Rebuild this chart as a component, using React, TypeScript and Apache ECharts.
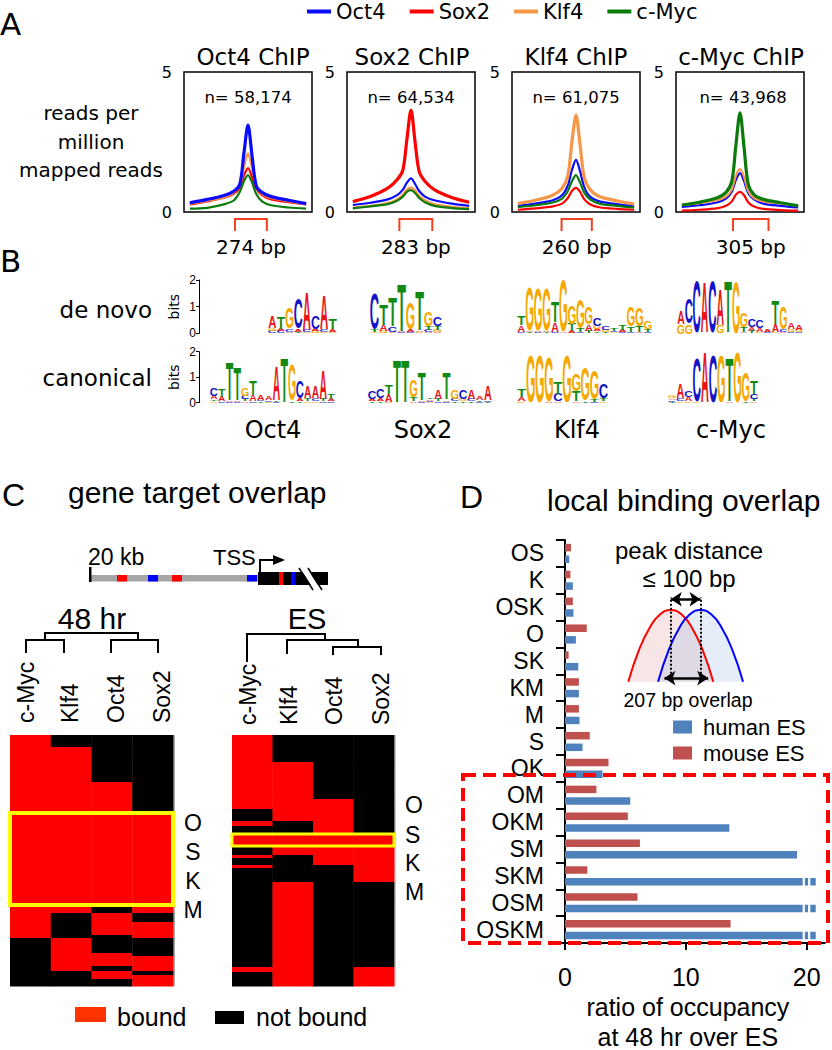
import React, { useEffect, useRef } from "react";
import * as echarts from "echarts";

// ---------------- Panel A data ----------------
const factorNames = ["Oct4", "Sox2", "Klf4", "c-Myc"];
const factorColors = ["#0a0aff", "#ff0000", "#f79646", "#0a7a0a"];
const chipTitles = ["Oct4 ChIP", "Sox2 ChIP", "Klf4 ChIP", "c-Myc ChIP"];
const peakCounts = ["58,174", "64,534", "61,075", "43,968"];
const profileX = [-500, -350, -200, -120, -70, -35, 0, 35, 70, 120, 200, 350, 500];

const oct4ChipOct4 = [0.33, 0.45, 0.6, 0.75, 1.0, 2.1, 3.1, 2.0, 0.95, 0.7, 0.55, 0.42, 0.3];
const oct4ChipSox2 = [0.27, 0.38, 0.52, 0.66, 0.88, 1.3, 1.57, 1.25, 0.85, 0.6, 0.45, 0.35, 0.27];
const oct4ChipKlf4 = [0.3, 0.4, 0.53, 0.7, 0.98, 1.6, 2.1, 1.55, 0.95, 0.65, 0.5, 0.38, 0.28];
const oct4ChipMyc = [0.12, 0.15, 0.28, 0.42, 0.72, 1.1, 1.32, 1.05, 0.65, 0.38, 0.24, 0.16, 0.12];
const sox2ChipOct4 = [0.25, 0.33, 0.45, 0.6, 0.8, 1.05, 1.2, 1.0, 0.75, 0.55, 0.42, 0.3, 0.22];
const sox2ChipSox2 = [0.37, 0.55, 0.85, 1.15, 1.5, 2.6, 3.64, 2.5, 1.45, 1.1, 0.8, 0.52, 0.35];
const sox2ChipKlf4 = [0.15, 0.22, 0.32, 0.45, 0.62, 0.8, 0.87, 0.78, 0.58, 0.42, 0.28, 0.18, 0.13];
const sox2ChipMyc = [0.13, 0.2, 0.28, 0.4, 0.55, 0.72, 0.78, 0.68, 0.5, 0.35, 0.22, 0.14, 0.1];
const klf4ChipOct4 = [0.22, 0.3, 0.42, 0.6, 0.95, 1.5, 1.86, 1.45, 0.9, 0.55, 0.38, 0.28, 0.2];
const klf4ChipSox2 = [0.08, 0.13, 0.2, 0.3, 0.5, 0.75, 0.86, 0.72, 0.46, 0.28, 0.17, 0.11, 0.08];
const klf4ChipKlf4 = [0.3, 0.42, 0.6, 0.85, 1.3, 2.5, 3.46, 2.4, 1.25, 0.8, 0.55, 0.4, 0.28];
const klf4ChipMyc = [0.17, 0.24, 0.34, 0.48, 0.75, 1.1, 1.32, 1.05, 0.7, 0.45, 0.3, 0.22, 0.16];
const mycChipOct4 = [0.18, 0.24, 0.34, 0.48, 0.72, 1.15, 1.39, 1.1, 0.68, 0.45, 0.3, 0.22, 0.16];
const mycChipSox2 = [0.05, 0.08, 0.13, 0.22, 0.38, 0.62, 0.72, 0.6, 0.35, 0.2, 0.11, 0.07, 0.05];
const mycChipKlf4 = [0.25, 0.32, 0.42, 0.55, 0.8, 1.3, 1.53, 1.25, 0.75, 0.5, 0.38, 0.3, 0.22];
const mycChipMyc = [0.25, 0.35, 0.5, 0.7, 1.1, 2.4, 3.54, 2.3, 1.0, 0.62, 0.45, 0.33, 0.22];

const bracketStart = [-112, -100, -124, -60];
const bracketWidth = [274, 283, 260, 305];

// ---------------- Panel B data (sequence logos: letters bottom->top, heights in bits) ----------------
const motifNames = ["Oct4", "Sox2", "Klf4", "c-Myc"];
const oct4DeNovo = [
  ["CGA", [0.08, 0.1, 0.45]], ["CAT", [0.07, 0.1, 0.46]], ["ACG", [0.06, 0.1, 0.78]], ["TAC", [0.06, 0.1, 1.15]],
  ["GCA", [0.05, 0.07, 1.44]], ["GAC", [0.07, 0.1, 0.52]], ["GCA", [0.05, 0.07, 1.32]], ["GAT", [0.06, 0.08, 0.42]],
];
const sox2DeNovo = [
  ["GTC", [0.05, 0.08, 1.37]], ["GAT", [0.08, 0.22, 0.8]], ["ACT", [0.06, 0.2, 1.09]], ["CAT", [0.03, 0.04, 1.78]],
  ["CAG", [0.06, 0.09, 1.0]], ["GAT", [0.04, 0.06, 1.5]], ["ACTG", [0.06, 0.08, 0.12, 0.54]], ["AGTC", [0.06, 0.08, 0.12, 0.34]],
];
const klf4DeNovo = [
  ["CAT", [0.05, 0.25, 0.35]], ["TAG", [0.03, 0.05, 1.67]], ["CAG", [0.03, 0.05, 1.62]], ["TAG", [0.03, 0.05, 1.62]],
  ["CAT", [0.05, 0.35, 0.8]], ["AG", [0.03, 1.97]], ["ATG", [0.08, 0.27, 0.7]], ["CTG", [0.06, 0.12, 1.12]],
  ["TAG", [0.08, 0.25, 0.67]], ["TAGC", [0.06, 0.1, 0.12, 0.27]], ["TGC", [0.06, 0.08, 0.16]], ["GCT", [0.04, 0.06, 0.1]],
  ["CAT", [0.05, 0.08, 0.17]], ["CTG", [0.06, 0.2, 0.74]], ["ATG", [0.06, 0.22, 0.72]], ["CTG", [0.06, 0.1, 0.29]],
];
const mycDeNovo = [
  ["GA", [0.35, 0.5]], ["GC", [0.35, 0.95]], ["C", [1.95]], ["A", [1.9]], ["C", [1.95]], ["GA", [0.3, 1.35]],
  ["T", [1.95]], ["G", [1.95]], ["ATG", [0.06, 0.2, 0.55]], ["TAC", [0.08, 0.15, 0.32]], ["GAC", [0.06, 0.16, 0.28]],
  ["CA", [0.05, 0.1]], ["GAT", [0.06, 0.3, 0.9]], ["ACG", [0.06, 0.1, 0.84]], ["CGA", [0.06, 0.1, 0.24]], ["CGA", [0.05, 0.08, 0.17]],
];
const oct4Canonical = [
  ["GTAC", [0.05, 0.07, 0.14, 0.3]], ["CAT", [0.05, 0.2, 0.31]], ["CAT", [0.03, 0.05, 1.52]], ["CAT", [0.04, 0.06, 1.3]],
  ["ATCG", [0.06, 0.08, 0.14, 0.32]], ["CAT", [0.05, 0.25, 0.55]], ["TCA", [0.05, 0.07, 0.18]], ["GCA", [0.04, 0.06, 0.15]],
  ["CTA", [0.03, 0.05, 1.37]], ["T", [1.8]], ["TG", [0.06, 1.39]], ["TAC", [0.06, 0.1, 0.69]],
  ["GTA", [0.06, 0.1, 0.44]], ["GCA", [0.06, 0.1, 0.44]], ["CTA", [0.05, 0.08, 1.17]], ["CAT", [0.05, 0.08, 0.22]],
];
const sox2Canonical = [
  ["TAC", [0.05, 0.1, 0.3]], ["TAC", [0.05, 0.12, 0.38]], ["GAT", [0.04, 0.3, 0.36]], ["T", [1.65]], ["T", [1.65]],
  ["ATG", [0.06, 0.14, 0.7]], ["CAT", [0.04, 0.06, 1.1]], ["GCAT", [0.04, 0.04, 0.05, 0.07]], ["CTA", [0.05, 0.1, 0.35]],
  ["CAT", [0.04, 0.06, 1.05]], ["TCG", [0.05, 0.08, 0.37]], ["TGC", [0.05, 0.08, 0.37]], ["TCA", [0.05, 0.08, 0.37]],
  ["CTA", [0.04, 0.06, 0.15]], ["TCA", [0.04, 0.06, 0.55]],
];
const klf4Canonical = [
  ["GAT", [0.05, 0.15, 0.3]], ["G", [1.87]], ["G", [1.87]], ["AG", [0.04, 1.76]], ["ACT", [0.04, 0.3, 0.46]],
  ["G", [1.87]], ["ATG", [0.05, 0.4, 0.7]], ["TG", [0.06, 1.29]], ["CTG", [0.04, 0.1, 1.14]], ["GTC", [0.05, 0.1, 0.55]],
];
const mycCanonical = [
  ["TCAG", [0.04, 0.06, 0.07, 0.1]], ["GCA", [0.06, 0.12, 0.57]], ["GAC", [0.05, 0.15, 0.25]], ["GC", [0.05, 1.75]],
  ["A", [2.0]], ["C", [1.87]], ["G", [1.87]], ["AT", [0.04, 1.71]], ["G", [2.0]], ["TG", [0.06, 1.14]], ["ATCT", [0.06, 0.1, 0.2, 0.54]],
];

// ---------------- Panel C data (bound patterns: c-Myc, Klf4, Oct4, Sox2) ----------------
const heatColumns = ["c-Myc", "Klf4", "Oct4", "Sox2"];
const hr48Heights = [12, 35, 31, 92, 8, 9, 13, 3, 15, 3, 10, 5, 4, 4, 7];
const hr48Patterns = ["1000", "1100", "1110", "1111", "1101", "1010", "1011", "1001", "0100", "0110", "0111", "0101", "0010", "0011", "0001"];
const esHeights = [27, 37, 10, 12, 5, 8, 12, 9, 3, 7, 3, 14, 85, 5, 14];
const esPatterns = ["1000", "1100", "1110", "0110", "1010", "0010", "1111", "0111", "1011", "0011", "1001", "0001", "0100", "1101", "0101"];
const oskmLetters = ["O", "S", "K", "M"];

// ---------------- Panel D data ----------------
const comboCategories = ["OS", "K", "OSK", "O", "SK", "KM", "M", "S", "OK", "OM", "OKM", "SM", "SKM", "OSM", "OSKM"];
const mouseRatio = [0.5, 0.45, 0.65, 1.8, 0.3, 1.15, 1.15, 2.05, 3.6, 2.6, 5.2, 6.2, 1.85, 6.0, 13.7];
const humanRatio = [0.35, 0.65, 0.7, 0.9, 1.1, 1.15, 1.2, 1.45, 3.1, 5.4, 13.6, 19.2, 20.75, 20.75, 20.75];
const brokenBars = ["SKM", "OSM", "OSKM"];
const breakMarks = [19.75, 20.2];
const peakShapeX = [-1, -0.75, -0.5, -0.25, 0, 0.25, 0.5, 0.75, 1];
const peakShapeY = [0, 0.44, 0.75, 0.94, 1, 0.94, 0.75, 0.44, 0];
const shiftedPeakX = [-0.3, -0.05, 0.2, 0.45, 0.7, 0.95, 1.2, 1.45, 1.7];

const FA = '"DejaVu Sans", sans-serif';
const FC = '"Liberation Sans", Arial, Helvetica, sans-serif';

const LETTER_COLORS: any = { A: "#e8141a", C: "#1414c8", G: "#f5a800", T: "#128a12" };
const LETTER_INK: any = { A: 0.7, C: 0.64, G: 0.69, T: 0.58 };

function txt(x: number, y: number, text: string, size: number, opts: any = {}) {
  return {
    type: "text",
    x,
    y,
    rotation: opts.rotation || 0,
    silent: true,
    z: 50,
    style: {
      text,
      font: `${opts.weight || "normal"} ${size}px ${opts.family || FC}`,
      fill: opts.color || "#000",
      align: opts.align || "left",
      verticalAlign: "middle",
    },
  };
}

function buildOption() {
  const grids: any[] = [];
  const xAxes: any[] = [];
  const yAxes: any[] = [];
  const series: any[] = [];
  const graphic: any[] = [];

  // ---------- Panel A ----------
  const profiles = [
    [oct4ChipOct4, oct4ChipSox2, oct4ChipKlf4, oct4ChipMyc],
    [sox2ChipOct4, sox2ChipSox2, sox2ChipKlf4, sox2ChipMyc],
    [klf4ChipOct4, klf4ChipSox2, klf4ChipKlf4, klf4ChipMyc],
    [mycChipOct4, mycChipSox2, mycChipKlf4, mycChipMyc],
  ];
  const aLeft = [184, 347, 512, 676];
  aLeft.forEach((left, i) => {
    grids.push({ left, top: 72, width: 128, height: 140, show: true, borderColor: "#000", borderWidth: 1.5, outerBoundsMode: "none" });
    xAxes.push({ gridIndex: i, type: "value", min: -550, max: 550, show: false });
    yAxes.push({
      gridIndex: i, type: "value", min: 0, max: 5, interval: 5,
      axisLine: { show: false }, axisTick: { show: false }, splitLine: { show: false },
      axisLabel: { fontSize: 16, fontFamily: FA, color: "#000", margin: 12 },
    });
    const order = [0, 1, 2, 3].filter((k) => k !== i).concat([i]);
    order.forEach((k) => {
      series.push({
        type: "line", name: factorNames[k], xAxisIndex: i, yAxisIndex: i,
        data: profileX.map((x, j) => [x, profiles[i][k][j]]),
        smooth: 0.3, symbol: "none", showSymbol: false, silent: true,
        lineStyle: { color: factorColors[k], width: k === i ? 3.2 : 2.2 },
        itemStyle: { color: factorColors[k] },
        z: k === i ? 4 : 3,
      });
    });
    series.push({
      type: "custom", xAxisIndex: i, yAxisIndex: i, clip: false, silent: true,
      data: [[bracketStart[i], bracketStart[i] + bracketWidth[i]]],
      renderItem: (params: any, api: any) => {
        const a = api.coord([api.value(0), 0]);
        const b = api.coord([api.value(1), 0]);
        const y = a[1];
        return {
          type: "group",
          children: [
            { type: "polyline", shape: { points: [[a[0], y + 19], [a[0], y + 7], [b[0], y + 7], [b[0], y + 19]] }, style: { stroke: "#f2401e", lineWidth: 2, fill: "none" } },
            { type: "text", x: (a[0] + b[0]) / 2, y: y + 35, style: { text: `${bracketWidth[i]} bp`, font: `normal 20px ${FA}`, fill: "#000", align: "center", verticalAlign: "middle" } },
          ],
        };
      },
    });
    graphic.push(txt(left + 64 + [5, 1, 0, 1][i], 57, chipTitles[i], 23, { family: FA, align: "center" }));
    graphic.push(txt(left + 64 + [0, 0, 0, 3][i], 97, `n= ${peakCounts[i]}`, 16.5, { family: FA, align: "center" }));
  });
  graphic.push(txt(0, 24, "A", 31, { family: FA }));
  graphic.push(txt(91, 113, "reads per", 20, { family: FA, align: "center" }));
  graphic.push(txt(91, 142, "million", 20, { family: FA, align: "center" }));
  graphic.push(txt(91, 170, "mapped reads", 20, { family: FA, align: "center" }));

  // ---------- Panel B ----------
  // bits axes (one per row)
  [
    { top: 280, height: 53.3 },
    { top: 351.7, height: 51 },
  ].forEach((row) => {
    const g = grids.length;
    grids.push({ left: 199, top: row.top, width: 2, height: row.height, outerBoundsMode: "none" });
    xAxes.push({ gridIndex: g, type: "value", min: 0, max: 1, show: false });
    yAxes.push({
      gridIndex: g, type: "value", min: 0, max: 2, interval: 1,
      axisLine: { show: true, lineStyle: { color: "#000", width: 1 } },
      axisTick: { show: true, length: 3, lineStyle: { color: "#000" } },
      axisLabel: { fontSize: 12, color: "#000", margin: 3, fontFamily: FC },
      splitLine: { show: false },
      name: "bits", nameLocation: "middle", nameGap: 18,
      nameTextStyle: { fontSize: 14, fontFamily: FA, color: "#000" },
    });
  });
  const logos = [
    { motif: oct4DeNovo, left: 268, width: 69, top: 280, height: 53.3 },
    { motif: sox2DeNovo, left: 370, width: 72, top: 280, height: 53.3 },
    { motif: klf4DeNovo, left: 517, width: 135, top: 280, height: 53.3 },
    { motif: mycDeNovo, left: 677, width: 126, top: 280, height: 53.3 },
    { motif: oct4Canonical, left: 210, width: 125, top: 351.7, height: 51 },
    { motif: sox2Canonical, left: 368, width: 124, top: 351.7, height: 51 },
    { motif: klf4Canonical, left: 517, width: 91, top: 351.7, height: 51 },
    { motif: mycCanonical, left: 668, width: 90, top: 351.7, height: 51 },
  ];
  logos.forEach((lg) => {
    const g = grids.length;
    grids.push({ left: lg.left, top: lg.top, width: lg.width, height: lg.height, outerBoundsMode: "none" });
    xAxes.push({ gridIndex: g, type: "value", min: -0.5, max: lg.motif.length - 0.5, show: false });
    yAxes.push({ gridIndex: g, type: "value", min: 0, max: 2, show: false });
    const motif = lg.motif;
    series.push({
      type: "custom", xAxisIndex: g, yAxisIndex: g, silent: true, clip: false,
      data: motif.map((_: any, i: number) => [i, 0]),
      renderItem: (params: any, api: any) => {
        const i = api.value(0);
        const letters = motif[i][0] as string;
        const heights = motif[i][1] as number[];
        const slot = api.size([1, 0])[0] * 0.92;
        const children: any[] = [];
        let cum = 0;
        for (let j = 0; j < letters.length; j++) {
          const h = heights[j];
          const pb = api.coord([i, cum]);
          const pt = api.coord([i, cum + h]);
          cum += h;
          const ph = pb[1] - pt[1];
          if (ph < 0.4) continue;
          const L = letters[j];
          children.push({
            type: "text", x: pb[0], y: (pb[1] + pt[1]) / 2,
            scaleX: slot / (LETTER_INK[L] * 20), scaleY: ph / (0.72 * 20),
            style: { text: L, fill: LETTER_COLORS[L], font: `bold 20px ${FC}`, align: "center", verticalAlign: "middle" },
          });
        }
        return { type: "group", children };
      },
    });
  });
  graphic.push(txt(0, 261, "B", 31, { family: FA }));
  graphic.push(txt(152, 310, "de novo", 23, { family: FA, align: "right" }));
  graphic.push(txt(152, 378, "canonical", 23, { family: FA, align: "right" }));
  [273, 423, 577, 731].forEach((x, i) => graphic.push(txt(x, 430, motifNames[i], 24, { family: FA, align: "center" })));

  // ---------- Panel C ----------
  const heatCells = (heights: number[], patterns: string[]) => {
    const cells: any[] = [];
    let y = 0;
    heights.forEach((h, r) => {
      for (let c = 0; c < 4; c++) cells.push([c, y, y + h, patterns[r][c] === "1" ? 1 : 0]);
      y += h;
    });
    return cells;
  };
  const highlightSpan = (heights: number[], patterns: string[]) => {
    let y = 0;
    for (let r = 0; r < heights.length; r++) {
      if (patterns[r] === "1111") return [[y, y + heights[r]]];
      y += heights[r];
    }
    return [];
  };
  const heatmaps = [
    { heights: hr48Heights, patterns: hr48Patterns, left: 10, width: 163, boxWidth: 4 },
    { heights: esHeights, patterns: esPatterns, left: 232, width: 162, boxWidth: 3 },
  ];
  heatmaps.forEach((hm) => {
    const g = grids.length;
    const total = hm.heights.reduce((a, b) => a + b, 0);
    grids.push({ left: hm.left, top: 735, width: hm.width, height: 251, outerBoundsMode: "none" });
    xAxes.push({ gridIndex: g, type: "value", min: 0, max: 4, show: false });
    yAxes.push({ gridIndex: g, type: "value", min: 0, max: total, inverse: true, show: false });
    series.push({
      type: "custom", xAxisIndex: g, yAxisIndex: g, silent: true,
      data: heatCells(hm.heights, hm.patterns),
      renderItem: (params: any, api: any) => {
        const c = api.value(0);
        const p0 = api.coord([c, api.value(1)]);
        const p1 = api.coord([c + 1, api.value(2)]);
        return {
          type: "rect",
          shape: { x: p0[0], y: p0[1], width: p1[0] - p0[0] + 0.4, height: p1[1] - p0[1] + 0.4 },
          style: { fill: api.value(3) ? "#ff0000" : "#000000" },
        };
      },
    });
    series.push({
      type: "custom", xAxisIndex: g, yAxisIndex: g, silent: true, clip: false, z: 5,
      data: highlightSpan(hm.heights, hm.patterns),
      renderItem: (params: any, api: any) => {
        const p0 = api.coord([0, api.value(0)]);
        const p1 = api.coord([4, api.value(1)]);
        return {
          type: "rect",
          shape: { x: p0[0], y: p0[1], width: p1[0] - p0[0], height: p1[1] - p0[1] },
          style: { fill: "none", stroke: "#ffff00", lineWidth: hm.boxWidth },
        };
      },
    });
  });
  graphic.push(txt(2, 495, "C", 32));
  graphic.push(txt(68, 492, "gene target overlap", 30));
  // gene schematic
  graphic.push({ type: "rect", silent: true, shape: { x: 89, y: 575, width: 169, height: 6.5 }, style: { fill: "#a6a6a6" } });
  graphic.push({ type: "rect", silent: true, shape: { x: 89, y: 567, width: 2.5, height: 15 }, style: { fill: "#000" } });
  [[117, "#ff0000"], [148, "#0000ff"], [172, "#ff0000"], [247, "#0000ff"]].forEach(([x, c]: any) =>
    graphic.push({ type: "rect", silent: true, shape: { x, y: 575, width: 10, height: 6.5 }, style: { fill: c } })
  );
  graphic.push({ type: "rect", silent: true, shape: { x: 258, y: 572, width: 70, height: 13 }, style: { fill: "#000" } });
  graphic.push({ type: "rect", silent: true, shape: { x: 279, y: 572, width: 4, height: 13 }, style: { fill: "#ff0000" } });
  graphic.push({ type: "rect", silent: true, shape: { x: 291, y: 572, width: 4, height: 13 }, style: { fill: "#0000ff" } });
  graphic.push({ type: "polygon", silent: true, shape: { points: [[300, 568], [307, 568], [321, 590], [314, 590]] }, style: { fill: "#fff" } });
  graphic.push({ type: "line", silent: true, shape: { x1: 299, y1: 568, x2: 313, y2: 590 }, style: { stroke: "#000", lineWidth: 1.5 } });
  graphic.push({ type: "line", silent: true, shape: { x1: 308, y1: 568, x2: 322, y2: 590 }, style: { stroke: "#000", lineWidth: 1.5 } });
  graphic.push({ type: "polyline", silent: true, shape: { points: [[260, 572], [260, 560], [275, 560]] }, style: { stroke: "#000", lineWidth: 2, fill: "none" } });
  graphic.push({ type: "polygon", silent: true, shape: { points: [[273, 555], [285, 560], [273, 565]] }, style: { fill: "#000" } });
  graphic.push(txt(88, 557, "20 kb", 23));
  graphic.push(txt(213, 557, "TSS", 22));
  // dendrograms
  const dendro = [
    [[45, 640], [45, 633], [138, 633], [138, 640]],
    [[26, 653], [26, 640], [64, 640], [64, 653]],
    [[111, 653], [111, 640], [158, 640], [158, 653]],
    [[247, 662], [247, 634], [325, 634], [325, 640]],
    [[287, 654], [287, 640], [358, 640], [358, 647]],
    [[333, 655], [333, 647], [381, 647], [381, 655]],
  ];
  dendro.forEach((pts) => graphic.push({ type: "polyline", silent: true, shape: { points: pts }, style: { stroke: "#000", lineWidth: 2, fill: "none" } }));
  graphic.push(txt(92, 618, "48 hr", 30, { align: "center" }));
  graphic.push(txt(307, 619, "ES", 29, { align: "center" }));
  [26, 70, 116, 162].forEach((x, i) => graphic.push(txt(x, 723, heatColumns[i], 23, { rotation: Math.PI / 2 })));
  [248, 289, 334, 381].forEach((x, i) => graphic.push(txt(x, 725, heatColumns[i], 23, { rotation: Math.PI / 2 })));
  [823, 852, 881, 910].forEach((y, i) => graphic.push(txt(193, y, oskmLetters[i], 23, { align: "center" })));
  [805, 835, 863, 892].forEach((y, i) => graphic.push(txt(405, y, oskmLetters[i], 23)));
  graphic.push({ type: "line", silent: true, shape: { x1: 174, y1: 735, x2: 174, y2: 986 }, style: { stroke: "#aaa", lineWidth: 2 } });
  graphic.push({ type: "line", silent: true, shape: { x1: 395, y1: 735, x2: 395, y2: 986 }, style: { stroke: "#bbb", lineWidth: 1.5 } });
  graphic.push({ type: "rect", silent: true, shape: { x: 75, y: 1007, width: 31, height: 15 }, style: { fill: "#ff3300" } });
  graphic.push({ type: "rect", silent: true, shape: { x: 215, y: 1011, width: 29, height: 13 }, style: { fill: "#000" } });
  graphic.push(txt(117, 1017, "bound", 25));
  graphic.push(txt(256, 1017, "not bound", 25));

  // ---------- Panel D ----------
  const gD = grids.length;
  grids.push({ left: 565, top: 540, width: 259.8, height: 403, outerBoundsMode: "none" });
  xAxes.push({
    gridIndex: gD, type: "value", min: 0, max: 21.5,
    axisLine: { show: true, lineStyle: { color: "#000", width: 2 } },
    axisTick: { show: true, length: 7, lineStyle: { color: "#000", width: 2 }, customValues: [0, 10, 20] },
    axisLabel: { fontSize: 25, color: "#000", margin: 21, fontFamily: FC, customValues: [0, 10, 20] },
    splitLine: { show: false },
    name: "ratio of occupancy\nat 48 hr over ES", nameLocation: "middle", nameGap: 49,
    nameTextStyle: { fontSize: 25, lineHeight: 30, color: "#000", fontFamily: FC, padding: [0, 14, 0, 0] },
  });
  yAxes.push({
    gridIndex: gD, type: "category", data: comboCategories, inverse: true,
    axisLine: { show: true, lineStyle: { color: "#000", width: 2 } },
    axisTick: { show: true, length: 9, lineStyle: { color: "#000", width: 2 } },
    axisLabel: { fontSize: 23, color: "#000", margin: 21, fontFamily: FC, interval: 0 },
    splitLine: { show: false },
  });
  series.push({ type: "bar", name: "mouse ES", xAxisIndex: gD, yAxisIndex: gD, data: mouseRatio, barWidth: 7.5, barGap: "55%", itemStyle: { color: "#c0504d" }, silent: true });
  series.push({ type: "bar", name: "human ES", xAxisIndex: gD, yAxisIndex: gD, data: humanRatio, barWidth: 7.5, barGap: "55%", itemStyle: { color: "#4f81bd" }, silent: true });
  series.push({
    type: "custom", xAxisIndex: gD, yAxisIndex: gD, silent: true, z: 6,
    data: brokenBars.flatMap((c) => breakMarks.map((v) => [v, comboCategories.indexOf(c)])),
    renderItem: (params: any, api: any) => {
      const p = api.coord([api.value(0), api.value(1)]);
      return { type: "rect", shape: { x: p[0] - 1, y: p[1] + 5.75 - 4.5, width: 2.2, height: 9 }, style: { fill: "#fff" } };
    },
  });
  // inset schematic
  const gI = grids.length;
  grids.push({ left: 628.3, top: 595.7, width: 114.75, height: 86, outerBoundsMode: "none" });
  xAxes.push({ gridIndex: gI, type: "value", min: -1, max: 1.7, show: false });
  yAxes.push({ gridIndex: gI, type: "value", min: 0, max: 1.2, show: false });
  series.push({
    type: "line", xAxisIndex: gI, yAxisIndex: gI, silent: true, smooth: true, symbol: "none",
    data: peakShapeX.map((x, i) => [x, peakShapeY[i]]),
    lineStyle: { color: "#ff0000", width: 2 }, areaStyle: { color: "rgba(222,130,130,0.3)" },
  });
  const dotted = { type: "dotted", color: "#000", width: 2 };
  const arrowLine = { type: "solid", color: "#000", width: 2.5 };
  series.push({
    type: "line", xAxisIndex: gI, yAxisIndex: gI, silent: true, smooth: true, symbol: "none",
    data: shiftedPeakX.map((x, i) => [x, peakShapeY[i]]),
    lineStyle: { color: "#0000ff", width: 2 }, areaStyle: { color: "rgba(150,180,232,0.35)" },
    markLine: {
      silent: true, symbol: ["none", "none"], symbolSize: 11, label: { show: false },
      data: [
        [{ coord: [0, 0], lineStyle: dotted }, { coord: [0, 1.18] }],
        [{ coord: [0.7, 0], lineStyle: dotted }, { coord: [0.7, 1.18] }],
        [{ coord: [0, 1.15], symbol: "arrow", lineStyle: arrowLine }, { coord: [0.7, 1.15], symbol: "arrow" }],
        [{ coord: [-0.15, 0.05], symbol: "arrow", lineStyle: arrowLine }, { coord: [0.88, 0.05], symbol: "arrow" }],
      ],
    },
  });
  graphic.push(txt(460, 497, "D", 32));
  graphic.push(txt(547, 500, "local binding overlap", 30));
  graphic.push(txt(689, 550, "peak distance", 24, { align: "center" }));
  graphic.push(txt(689, 578, "≤ 100 bp", 24, { align: "center" }));
  graphic.push(txt(688, 700, "207 bp overlap", 19.5, { align: "center" }));
  graphic.push({
    type: "rect", silent: true, z: 100,
    shape: { x: 463, y: 775, width: 365, height: 168 },
    style: { fill: "none", stroke: "#ff0000", lineWidth: 4, lineDash: [13, 7] },
  });

  return {
    animation: false,
    backgroundColor: "#fff",
    legend: [
      {
        data: factorNames, left: 307, top: 1, padding: 0, itemWidth: 24, itemHeight: 4, itemGap: 24, icon: "rect",
        selectedMode: false, textStyle: { fontSize: 21, fontFamily: FA, color: "#000" },
      },
      {
        data: ["human ES", "mouse ES"], orient: "vertical", left: 673, top: 715, padding: 0, itemWidth: 19, itemHeight: 13,
        itemGap: 2, icon: "rect", selectedMode: false,
        textStyle: { fontSize: 22, lineHeight: 24, fontFamily: FC, color: "#000", padding: [0, 0, 0, 6] },
      },
    ],
    grid: grids,
    xAxis: xAxes,
    yAxis: yAxes,
    series,
    graphic: { elements: graphic },
  };
}

export default function App() {
  const ref = useRef<HTMLDivElement>(null);
  useEffect(() => {
    document.body.style.margin = "0";
    const chart = echarts.init(ref.current!, null, { renderer: "svg" });
    chart.setOption(buildOption() as any);
    return () => chart.dispose();
  }, []);
  return <div ref={ref} style={{ width: 832, height: 1050, background: "#fff" }} />;
}
